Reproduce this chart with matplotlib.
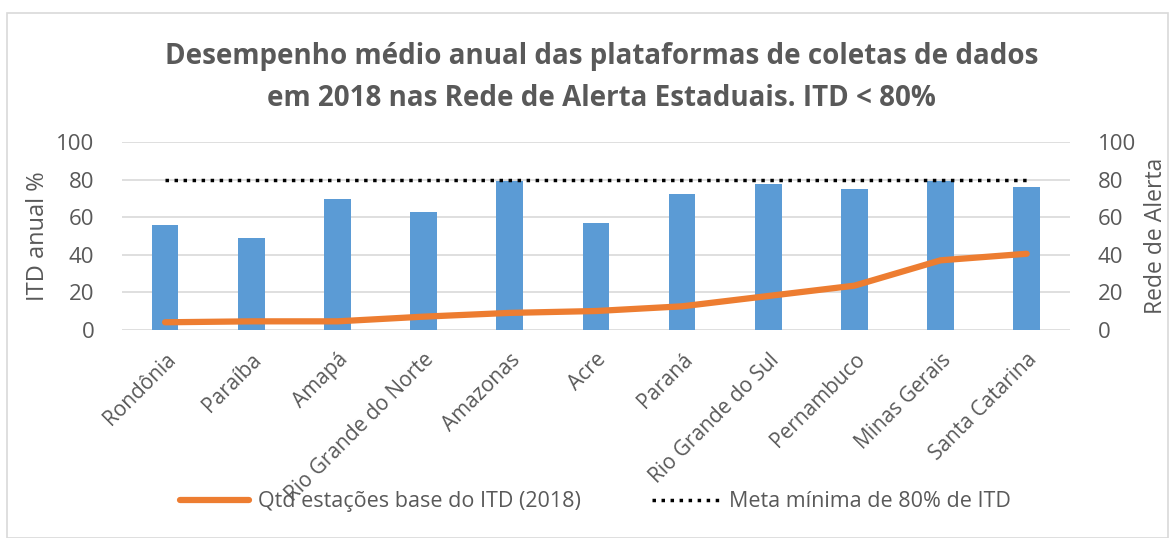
import numpy as np
import matplotlib.pyplot as plt
from matplotlib.patches import Rectangle

plt.rcParams['font.family'] = ['Open Sans', 'DejaVu Sans']

estados = ['Rondônia', 'Paraíba', 'Amapá', 'Rio Grande do Norte', 'Amazonas', 'Acre',
           'Paraná', 'Rio Grande do Sul', 'Pernambuco', 'Minas Gerais', 'Santa Catarina']
itd_anual = [56, 49, 69.5, 62.5, 79, 57, 72.5, 77.5, 75, 79.5, 76]
qtd_estacoes = [4, 4.5, 4.5, 7, 9, 10, 12.5, 18, 23.5, 37, 40.5]
meta = [80] * len(estados)

cinza = '#595959'
azul = '#5B9BD5'
laranja = '#ED7D31'

fig = plt.figure(figsize=(11.73, 5.38), dpi=100)
fig.patches.append(Rectangle((0.006, 0.0), 0.99, 0.976, transform=fig.transFigure,
                             fill=False, edgecolor='#d9d9d9', linewidth=1.2))

ax1 = fig.add_axes([0.104, 0.387, 0.808, 0.349])
x = np.arange(len(estados))

ax1.bar(x, itd_anual, width=0.31, color=azul, zorder=2)
ax1.set_ylim(0, 100)
ax1.set_xlim(-0.5, len(estados) - 0.5)
ax1.set_yticks(range(0, 101, 20))
ax1.yaxis.grid(True, color='#d9d9d9', linewidth=1.2, zorder=0)
ax1.set_axisbelow(True)
ax1.set_xticks(x)
ax1.set_xticklabels(estados, rotation=45, ha='right', rotation_mode='anchor')
ax1.tick_params(axis='x', length=0, labelsize=15, colors=cinza, pad=14)
ax1.tick_params(axis='y', length=0, labelsize=16, colors=cinza, pad=20)
ax1.set_ylabel('ITD anual %', fontsize=17, color=cinza, labelpad=4)
for s in ax1.spines.values():
    s.set_visible(False)

# eixo secundario
ax2 = ax1.twinx()
ax2.set_ylim(0, 100)
ax2.set_yticks(range(0, 101, 20))
l1, = ax2.plot(x, qtd_estacoes, color=laranja, linewidth=4.5, zorder=3,
               solid_capstyle='round', label='Qtd estações base do ITD (2018)')
l2, = ax2.plot(x, meta, color='black', linestyle=(0, (1, 1.6)), linewidth=2.5, zorder=4,
               label='Meta mínima de 80% de ITD')
ax2.tick_params(axis='y', length=0, labelsize=16, colors=cinza, pad=20)
ax2.set_ylabel('Rede de Alerta', fontsize=16.5, color=cinza, rotation=90, labelpad=6)
for s in ax2.spines.values():
    s.set_visible(False)

fig.text(0.513, 0.856, 'Desempenho médio anual das plataformas de coletas de dados\n'
         'em 2018 nas Rede de Alerta Estaduais. ITD < 80%',
         ha='center', va='center', fontsize=20, fontweight='bold', color=cinza,
         linespacing=1.6)

fig.legend(handles=[l1, l2], loc='center', bbox_to_anchor=(0.508, 0.067), ncol=2,
           frameon=False, fontsize=15.5, labelcolor=cinza, handlelength=3.2,
           handletextpad=0.4, columnspacing=3.3)

fig.savefig('out.png', dpi=100)
